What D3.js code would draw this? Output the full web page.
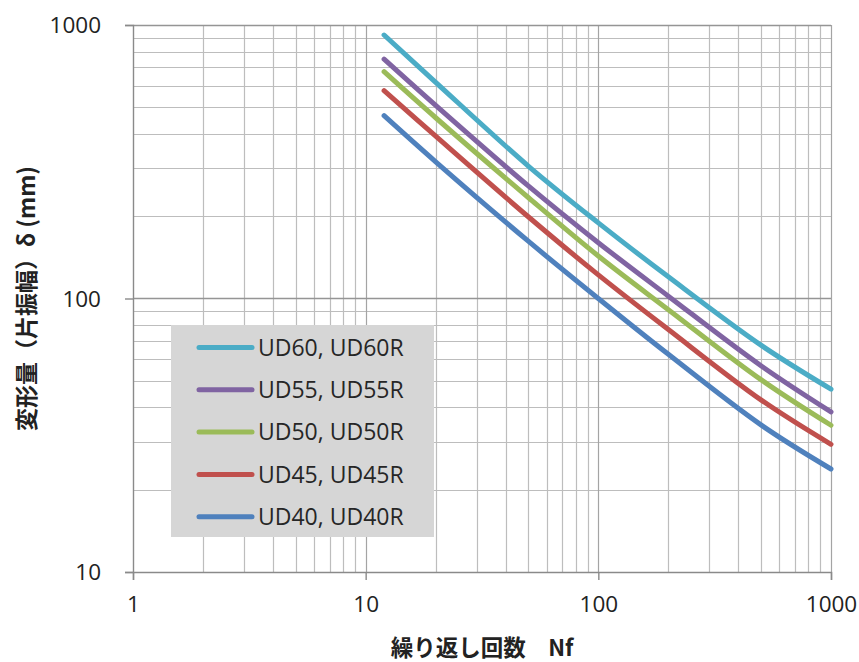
<!DOCTYPE html>
<html>
<head>
<meta charset="utf-8">
<script src="https://cdn.jsdelivr.net/npm/d3@7"></script>
<style>
  html, body { margin: 0; padding: 0; background: #fff; }
  svg { display: block; }
</style>
</head>
<body>
<svg id="chart" width="859" height="662"></svg>
<script>
// ---- data ----
const cycles = [12, 20, 50, 100, 200, 500, 1000];
const seriesNames = ["UD60, UD60R", "UD55, UD55R", "UD50, UD50R", "UD45, UD45R", "UD40, UD40R"];
const ud60 = [919, 617, 305, 189, 120, 67.5, 46.6];
const ud55 = [750, 508, 258, 160, 102, 56.8, 38.5];
const ud50 = [675, 458, 234, 143, 91, 50.5, 34.4];
const ud45 = [575, 392, 199, 122, 77, 42.6, 29.3];
const ud40 = [466, 316, 162, 100, 62.5, 34.5, 23.8];
const seriesColors = ["#4bacc6", "#8064a2", "#9bbb59", "#c0504d", "#4f81bd"];
const xTicks = [1, 10, 100, 1000];
const yTicks = [10, 100, 1000];
const xTitle = "繰り返し回数\u3000Nf";
const yTitle = "変形量（片振幅）δ (mm)";

const seriesValues = [ud60, ud55, ud50, ud45, ud40];

// ---- layout ----
const svg = d3.select("#chart");
const L = 133, R = 831, T = 25, B = 572;
const x = d3.scaleLog().domain([1, 1000]).range([L, R]);
const y = d3.scaleLog().domain([10, 1000]).range([B, T]);

const numFont = "'Open Sans', 'Liberation Sans', sans-serif";
const cjkFont = "'Noto Sans CJK JP', 'Noto Sans', sans-serif";

// minor grid values
const minorX = [], minorY = [];
for (let d = 1; d < 1000; d *= 10) for (let k = 2; k <= 9; k++) minorX.push(d * k);
for (let d = 10; d < 1000; d *= 10) for (let k = 2; k <= 9; k++) minorY.push(d * k);

const grid = svg.append("g");
grid.selectAll(".mx").data(minorX).join("line")
  .attr("x1", d => Math.round(x(d)) + 0.5).attr("x2", d => Math.round(x(d)) + 0.5)
  .attr("y1", T).attr("y2", B)
  .attr("stroke", "#bdbdbd").attr("stroke-width", 1.2);
grid.selectAll(".my").data(minorY).join("line")
  .attr("y1", d => Math.round(y(d)) + 0.5).attr("y2", d => Math.round(y(d)) + 0.5)
  .attr("x1", L).attr("x2", R)
  .attr("stroke", "#bdbdbd").attr("stroke-width", 1.2);
// major grid
grid.selectAll(".Mx").data(xTicks.slice(1)).join("line")
  .attr("x1", d => Math.round(x(d)) + 0.5).attr("x2", d => Math.round(x(d)) + 0.5)
  .attr("y1", T).attr("y2", B)
  .attr("stroke", "#a4a4a4").attr("stroke-width", 1.2);
grid.selectAll(".My").data(yTicks.slice(1)).join("line")
  .attr("y1", d => Math.round(y(d)) + 0.5).attr("y2", d => Math.round(y(d)) + 0.5)
  .attr("x1", L).attr("x2", R)
  .attr("stroke", "#959595").attr("stroke-width", 1.4);

// axes
const xAxis = d3.axisBottom(x).tickValues(xTicks).tickFormat(d3.format("d")).tickSize(8).tickPadding(16);
const yAxis = d3.axisLeft(y).tickValues(yTicks).tickFormat(d3.format("d")).tickSize(8).tickPadding(24);
const gx = svg.append("g").attr("transform", `translate(0,${B})`).call(xAxis);
const gy = svg.append("g").attr("transform", `translate(${L},0)`).call(yAxis);
[gx, gy].forEach(g => {
  g.select(".domain").attr("stroke", "#8a8a8a").attr("stroke-width", 1.4);
  g.selectAll(".tick line").attr("stroke", "#8a8a8a").attr("stroke-width", 1.4);
  g.selectAll(".tick text").attr("fill", "#222").style("font-family", numFont).style("font-size", "22.5px");
});
gy.selectAll(".tick text").attr("dy", "0.35em");
gx.selectAll(".tick text").attr("dy", "0.71em");

// legend box (drawn under lines, over grid)
const lg = svg.append("g");
lg.append("rect").attr("x", 171).attr("y", 325).attr("width", 263).attr("height", 212).attr("fill", "#d6d6d6");

// lines
const line = d3.line()
  .x(d => x(d[0])).y(d => y(d[1]))
  .curve(d3.curveCatmullRom.alpha(0.5));
svg.append("g").selectAll("path").data(seriesValues).join("path")
  .attr("d", vals => line(cycles.map((c, i) => [c, vals[i]])))
  .attr("fill", "none")
  .attr("stroke", (d, i) => seriesColors[i])
  .attr("stroke-width", 5)
  .attr("stroke-linecap", "round")
  .attr("stroke-linejoin", "round");

// legend entries
const entry = lg.selectAll(".e").data(seriesNames).join("g")
  .attr("transform", (d, i) => `translate(0,${347.5 + i * 42.3})`);
entry.append("line").attr("x1", 199).attr("x2", 252).attr("y1", 0).attr("y2", 0)
  .attr("stroke", (d, i) => seriesColors[i]).attr("stroke-width", 5).attr("stroke-linecap", "round");
entry.append("text").attr("x", 258).attr("y", 0).attr("dy", "0.36em")
  .text(d => d).attr("fill", "#262626")
  .style("font-family", numFont).style("font-size", "23px");

// titles
svg.append("text").attr("x", 482).attr("y", 648).attr("dy", "0.36em")
  .attr("text-anchor", "middle").attr("fill", "#222")
  .style("font-family", cjkFont).style("font-size", "22.5px").style("font-weight", "bold")
  .text(xTitle);
svg.append("text").attr("transform", `translate(27,${(T + B) / 2}) rotate(-90)`)
  .attr("dy", "0.36em").attr("text-anchor", "middle").attr("fill", "#222")
  .style("font-family", cjkFont).style("font-size", "23px").style("font-weight", "bold")
  .text(yTitle);
</script>
</body>
</html>
